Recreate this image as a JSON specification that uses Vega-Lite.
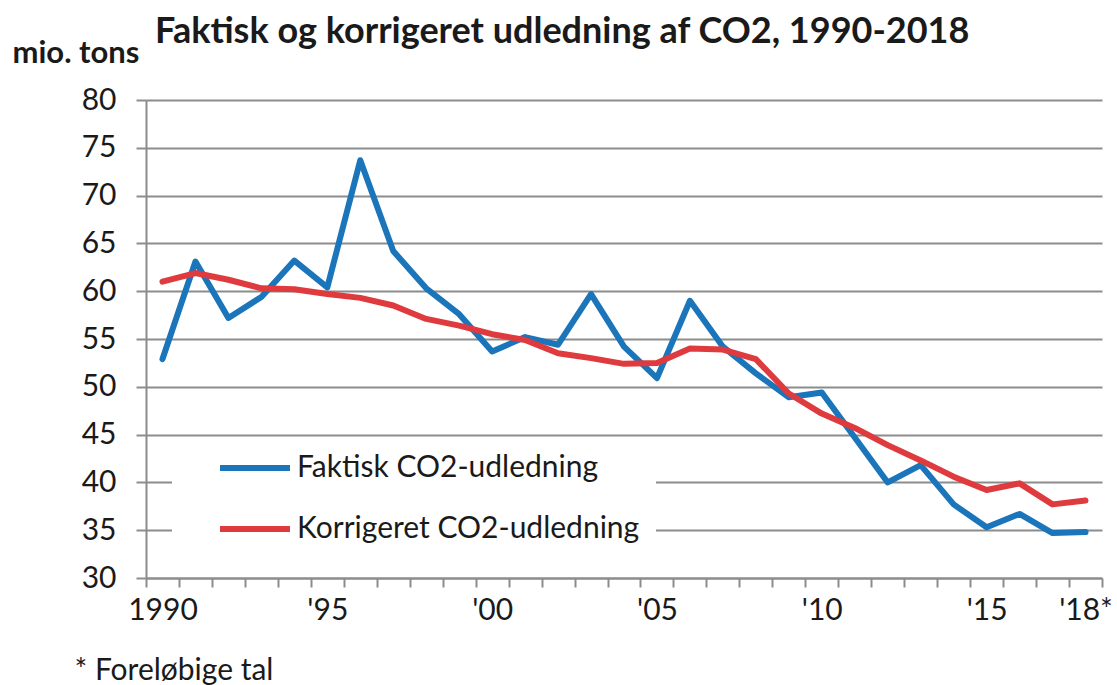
{
  "$schema": "https://vega.github.io/schema/vega-lite/v6.json",
  "autosize": "none",
  "width": 956,
  "height": 478,
  "padding": {"left": 146, "top": 100, "right": 15, "bottom": 107},
  "background": "white",
  "title": {
    "text": "Faktisk og korrigeret udledning af CO2, 1990-2018",
    "anchor": "start",
    "frame": "group",
    "dx": 9,
    "dy": 18,
    "fontSize": 36,
    "font": "Lato",
    "fontWeight": "bold",
    "color": "#1a1a1a"
  },
  "config": {
    "view": {"stroke": null},
    "font": "Lato"
  },
  "data": {
    "values": [
      {"year": 1990, "serie": "Faktisk CO2-udledning", "value": 52.9},
      {"year": 1991, "serie": "Faktisk CO2-udledning", "value": 63.1},
      {"year": 1992, "serie": "Faktisk CO2-udledning", "value": 57.2},
      {"year": 1993, "serie": "Faktisk CO2-udledning", "value": 59.4},
      {"year": 1994, "serie": "Faktisk CO2-udledning", "value": 63.2},
      {"year": 1995, "serie": "Faktisk CO2-udledning", "value": 60.4},
      {"year": 1996, "serie": "Faktisk CO2-udledning", "value": 73.7},
      {"year": 1997, "serie": "Faktisk CO2-udledning", "value": 64.2},
      {"year": 1998, "serie": "Faktisk CO2-udledning", "value": 60.3},
      {"year": 1999, "serie": "Faktisk CO2-udledning", "value": 57.6},
      {"year": 2000, "serie": "Faktisk CO2-udledning", "value": 53.7},
      {"year": 2001, "serie": "Faktisk CO2-udledning", "value": 55.2},
      {"year": 2002, "serie": "Faktisk CO2-udledning", "value": 54.4},
      {"year": 2003, "serie": "Faktisk CO2-udledning", "value": 59.7},
      {"year": 2004, "serie": "Faktisk CO2-udledning", "value": 54.2},
      {"year": 2005, "serie": "Faktisk CO2-udledning", "value": 50.9},
      {"year": 2006, "serie": "Faktisk CO2-udledning", "value": 59.0},
      {"year": 2007, "serie": "Faktisk CO2-udledning", "value": 54.2},
      {"year": 2008, "serie": "Faktisk CO2-udledning", "value": 51.4},
      {"year": 2009, "serie": "Faktisk CO2-udledning", "value": 48.9},
      {"year": 2010, "serie": "Faktisk CO2-udledning", "value": 49.4},
      {"year": 2011, "serie": "Faktisk CO2-udledning", "value": 44.7},
      {"year": 2012, "serie": "Faktisk CO2-udledning", "value": 40.0},
      {"year": 2013, "serie": "Faktisk CO2-udledning", "value": 41.8},
      {"year": 2014, "serie": "Faktisk CO2-udledning", "value": 37.7},
      {"year": 2015, "serie": "Faktisk CO2-udledning", "value": 35.3},
      {"year": 2016, "serie": "Faktisk CO2-udledning", "value": 36.7},
      {"year": 2017, "serie": "Faktisk CO2-udledning", "value": 34.7},
      {"year": 2018, "serie": "Faktisk CO2-udledning", "value": 34.8},
      {"year": 1990, "serie": "Korrigeret CO2-udledning", "value": 61.0},
      {"year": 1991, "serie": "Korrigeret CO2-udledning", "value": 61.9},
      {"year": 1992, "serie": "Korrigeret CO2-udledning", "value": 61.2},
      {"year": 1993, "serie": "Korrigeret CO2-udledning", "value": 60.3},
      {"year": 1994, "serie": "Korrigeret CO2-udledning", "value": 60.2},
      {"year": 1995, "serie": "Korrigeret CO2-udledning", "value": 59.7},
      {"year": 1996, "serie": "Korrigeret CO2-udledning", "value": 59.3},
      {"year": 1997, "serie": "Korrigeret CO2-udledning", "value": 58.5},
      {"year": 1998, "serie": "Korrigeret CO2-udledning", "value": 57.1},
      {"year": 1999, "serie": "Korrigeret CO2-udledning", "value": 56.4},
      {"year": 2000, "serie": "Korrigeret CO2-udledning", "value": 55.5},
      {"year": 2001, "serie": "Korrigeret CO2-udledning", "value": 54.9},
      {"year": 2002, "serie": "Korrigeret CO2-udledning", "value": 53.5},
      {"year": 2003, "serie": "Korrigeret CO2-udledning", "value": 53.0},
      {"year": 2004, "serie": "Korrigeret CO2-udledning", "value": 52.4},
      {"year": 2005, "serie": "Korrigeret CO2-udledning", "value": 52.5},
      {"year": 2006, "serie": "Korrigeret CO2-udledning", "value": 54.0},
      {"year": 2007, "serie": "Korrigeret CO2-udledning", "value": 53.9},
      {"year": 2008, "serie": "Korrigeret CO2-udledning", "value": 52.9},
      {"year": 2009, "serie": "Korrigeret CO2-udledning", "value": 49.3},
      {"year": 2010, "serie": "Korrigeret CO2-udledning", "value": 47.2},
      {"year": 2011, "serie": "Korrigeret CO2-udledning", "value": 45.7},
      {"year": 2012, "serie": "Korrigeret CO2-udledning", "value": 43.9},
      {"year": 2013, "serie": "Korrigeret CO2-udledning", "value": 42.3},
      {"year": 2014, "serie": "Korrigeret CO2-udledning", "value": 40.6},
      {"year": 2015, "serie": "Korrigeret CO2-udledning", "value": 39.2},
      {"year": 2016, "serie": "Korrigeret CO2-udledning", "value": 39.9},
      {"year": 2017, "serie": "Korrigeret CO2-udledning", "value": 37.7},
      {"year": 2018, "serie": "Korrigeret CO2-udledning", "value": 38.1}
    ]
  },
  "mark": {"type": "line", "strokeWidth": 6, "strokeJoin": "round", "strokeCap": "round"},
  "encoding": {
    "x": {
      "field": "year",
      "type": "ordinal",
      "scale": {"paddingInner": 0, "paddingOuter": 0},
      "axis": {
        "title": "* Foreløbige tal",
        "titleFont": "Lato",
        "titleFontSize": 30,
        "titleFontWeight": "normal",
        "titleColor": "#1a1a1a",
        "titleAnchor": "start",
        "titleAlign": "left",
        "titleBaseline": "middle",
        "titleX": -72,
        "titleY": 92,
        "labelAngle": 0,
        "labelFontSize": 30,
        "labelColor": "#1a1a1a",
        "labelPadding": 8,
        "labelOverlap": false,
        "labelExpr": "datum.value == 1990 ? '1990' : datum.value == 2018 ? \"'18*\" : datum.value % 5 == 0 ? \"'\" + slice(toString(datum.value), 2) : ''",
        "tickBand": "extent",
        "tickSize": 9,
        "tickColor": "#8c8c8c",
        "tickWidth": 2,
        "domainColor": "#8c8c8c",
        "domainWidth": 2,
        "grid": false
      }
    },
    "y": {
      "field": "value",
      "type": "quantitative",
      "scale": {"domain": [30, 80], "nice": false, "zero": false},
      "axis": {
        "title": "mio. tons",
        "titleFont": "Lato",
        "titleFontSize": 31,
        "titleFontWeight": "bold",
        "titleColor": "#1a1a1a",
        "titleAngle": 0,
        "titleAlign": "left",
        "titleBaseline": "alphabetic",
        "titleX": -134,
        "titleY": -38,
        "values": [30, 35, 40, 45, 50, 55, 60, 65, 70, 75, 80],
        "labelFontSize": 30,
        "labelColor": "#1a1a1a",
        "labelPadding": 20,
        "tickSize": 10,
        "tickColor": "#8c8c8c",
        "tickWidth": 2,
        "domainColor": "#8c8c8c",
        "domainWidth": 2,
        "gridColor": "#8c8c8c",
        "gridWidth": 2
      }
    },
    "color": {
      "field": "serie",
      "type": "nominal",
      "scale": {
        "domain": ["Faktisk CO2-udledning", "Korrigeret CO2-udledning"],
        "range": ["#1B75BB", "#DF3A3E"]
      },
      "legend": {
        "title": "\u00a0",
        "titleOrient": "left",
        "titlePadding": 52,
        "titleFontSize": 8,
        "legendX": 26,
        "legendY": 337,
        "orient": "none",
        "fillColor": "white",
        "padding": 16,
        "symbolType": "M-3,0H3",
        "symbolSize": 544,
        "symbolStrokeWidth": 6,
        "labelFontSize": 30,
        "labelColor": "#1a1a1a",
        "labelOffset": 27,
        "labelLimit": 500,
        "rowPadding": 31
      }
    }
  }
}
